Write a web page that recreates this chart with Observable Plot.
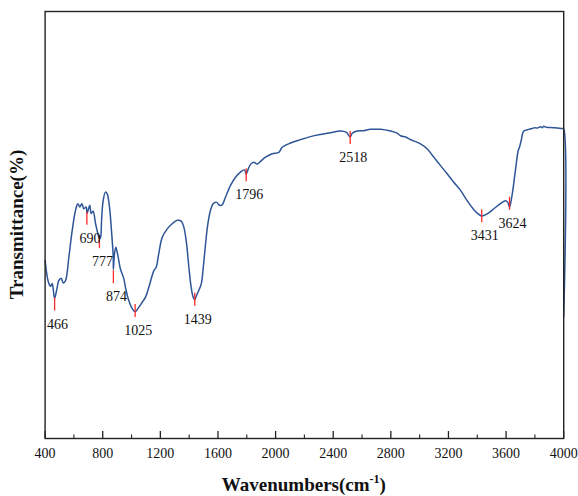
<!DOCTYPE html>
<html>
<head>
<meta charset="utf-8">
<script src="https://cdn.jsdelivr.net/npm/d3@7"></script>
<script src="https://cdn.jsdelivr.net/npm/@observablehq/plot@0.6"></script>
<style>
  html, body { margin: 0; padding: 0; background: #fff; }
  #chart svg { display: block; }
</style>
</head>
<body>
<div id="chart"></div>
<script>
// Spectrum: wavenumber (cm-1) and transmittance (arbitrary %)
const wavenumbers = [400,415,426,437,449,456,466,484,495,512,526,542,565,588,611,627,641,655,669,685,690,698,710,720,733,750,766,777,785,792,803,819,831,847,859,873,874,882,891,905,923,946,958,981,1005,1025,1050,1074,1097,1120,1155,1171,1189,1213,1248,1282,1317,1345,1363,1382,1398,1414,1428,1439,1451,1467,1484,1498,1514,1530,1548,1567,1590,1613,1629,1652,1687,1722,1756,1784,1796,1807,1826,1849,1872,1895,1930,1977,2022,2046,2104,2173,2242,2312,2381,2450,2492,2518,2532,2567,2612,2659,2728,2798,2844,2867,2902,2937,3006,3053,3098,3145,3191,3237,3284,3330,3376,3411,3431,3469,3515,3561,3596,3612,3624,3643,3665,3684,3693,3705,3723,3758,3780,3800,3816,3840,3850,3862,3870,3880,3931,3990,4000,4000];
const transmittance = [41.7,37.8,36.3,35.6,36.3,35.1,32.8,35.4,37.0,37.5,36.4,37.0,42.5,48.7,53.4,55.0,54.2,55.0,53.8,54.2,52.7,53.4,54.6,52.7,53.2,50.4,48.0,46.8,47.1,51.1,55.7,57.7,57.3,54.2,49.5,42.5,39.6,43.3,44.8,42.9,39.7,37.5,35.4,32.3,30.4,29.7,30.7,31.9,33.1,35.4,39.3,40.1,43.3,47.1,49.1,50.3,51.1,50.9,49.5,45.6,40.1,35.4,33.1,32.5,33.5,34.7,36.2,40.1,45.6,50.3,53.4,55.0,55.3,54.6,54.7,56.5,59.3,61.2,62.4,62.9,61.9,62.8,64.2,64.7,64.3,64.9,65.9,66.7,67.0,68.2,69.2,70.0,70.7,71.2,71.6,72.0,71.7,70.6,71.5,72.0,72.1,72.4,72.4,72.0,71.5,70.9,70.6,70.0,69.0,67.8,65.9,63.9,62.0,60.0,58.1,55.7,53.6,52.5,52.1,52.6,53.8,55.0,55.7,55.3,54.2,57.3,62.8,67.4,68.2,69.8,72.0,72.4,72.6,72.8,72.7,73.0,72.8,73.1,73.0,72.9,72.8,72.6,72.5,28.6];

// Marked peaks
const peakWavenumbers = [466, 690, 777, 874, 1025, 1439, 1796, 2518, 3431, 3624];
const peakTransmittance = [32.9, 53.0, 47.5, 39.3, 31.4, 34.0, 63.2, 71.9, 53.6, 56.5];
const peakLabels = ["466", "690", "777", "874", "1025", "1439", "1796", "2518", "3431", "3624"];

// Axis ticks
const majorTicks = [400, 800, 1200, 1600, 2000, 2400, 2800, 3200, 3600, 4000];
const minorTicks = [600, 1000, 1400, 1800, 2200, 2600, 3000, 3400, 3800];

const spectrum = wavenumbers.map((w, i) => ({w, t: transmittance[i]}));
const peaks = peakWavenumbers.map((w, i) => ({w, t: peakTransmittance[i], label: peakLabels[i]}));

const W = 578, H = 496;
const mL = 44.6, mR = 14.8, mT = 11, mB = 58;
const pxPerUnit = (H - mT - mB) / 100;
const serif = "'Liberation Serif', 'Times New Roman', serif";

const svg = Plot.plot({
  width: W,
  height: H,
  marginLeft: mL,
  marginRight: mR,
  marginTop: mT,
  marginBottom: mB,
  style: {fontFamily: serif, background: "#fff", color: "#111"},
  x: {domain: [400, 4000]},
  y: {domain: [0, 100], axis: null},
  marks: [
    Plot.ruleX(majorTicks, {x: d => d, y1: 0, y2: 7 / pxPerUnit, stroke: "#222", strokeWidth: 1.3}),
    Plot.ruleX(minorTicks, {x: d => d, y1: 0, y2: 3.5 / pxPerUnit, stroke: "#222", strokeWidth: 1.1}),
    Plot.axisX({ticks: majorTicks, tickSize: 0, tickPadding: 10, tickFormat: d => String(d), fontSize: 14, fontFamily: serif, label: null}),
    Plot.line(spectrum, {x: "w", y: "t", stroke: "#2d5597", strokeWidth: 1.5, curve: "catmull-rom"}),
    Plot.ruleX(peaks, {x: "w", y1: "t", y2: d => d.t - 13 / pxPerUnit, stroke: "#ff2a2a", strokeWidth: 1.3}),
    Plot.text(peaks, {x: "w", y: "t", text: "label", dx: 3, dy: 26, fontSize: 14, fontFamily: serif, fill: "#111"}),
    Plot.frame({stroke: "#222", strokeWidth: 1.4})
  ]
});

const s = d3.select(svg);
// X axis title with superscript
const xt = s.append("text")
  .attr("x", mL + (W - mL - mR) / 2)
  .attr("y", 491)
  .attr("text-anchor", "middle")
  .attr("font-family", serif)
  .attr("font-weight", "bold")
  .attr("font-size", 19)
  .attr("fill", "#111");
xt.append("tspan").text("Wavenumbers(cm");
xt.append("tspan").attr("font-size", 12).attr("dy", -8).text("-1");
xt.append("tspan").attr("dy", 8).text(")");

// Y axis title
s.append("text")
  .attr("transform", `translate(23, ${mT + (H - mT - mB) / 2}) rotate(-90)`)
  .attr("text-anchor", "middle")
  .attr("font-family", serif)
  .attr("font-weight", "bold")
  .attr("font-size", 19)
  .attr("fill", "#111")
  .text("Transmittance(%)");

document.getElementById("chart").appendChild(svg);
</script>
</body>
</html>
